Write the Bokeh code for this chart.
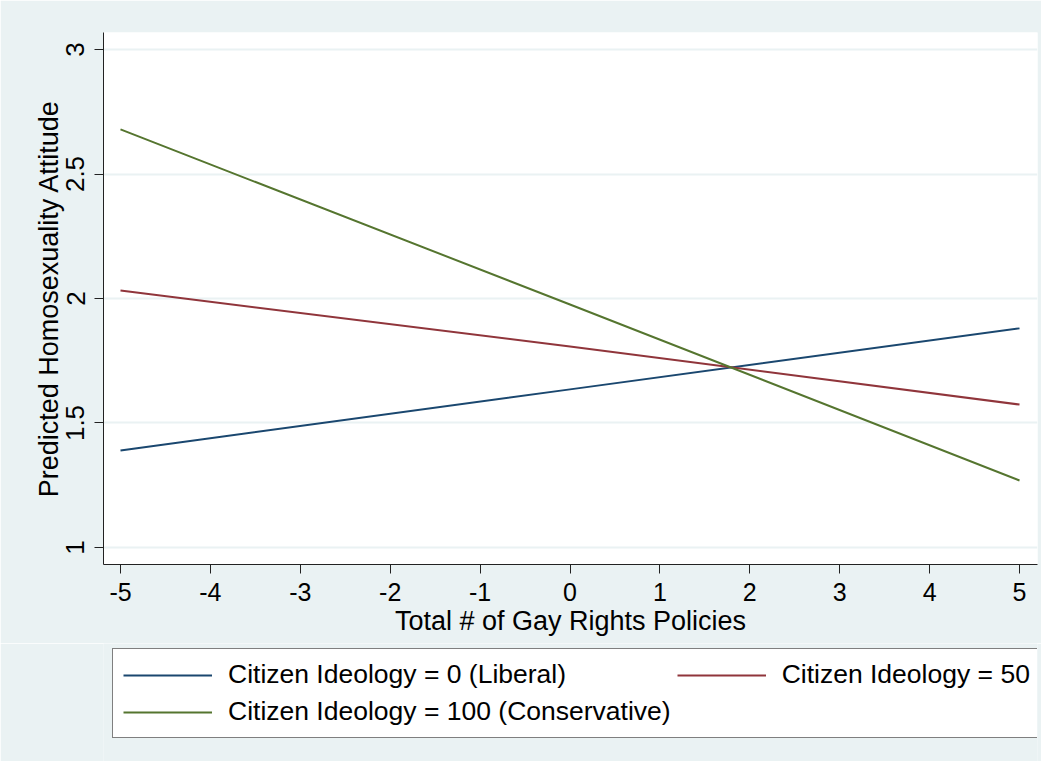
from bokeh.plotting import figure
from bokeh.models import Legend, LegendItem, Range1d, FixedTicker
from bokeh.layouts import column
from bokeh.embed import file_html
from bokeh.resources import INLINE

# ---- data ----
policies = [-5, 0, 5]
liberal = [1.39, 1.635, 1.88]
moderate = [2.032, 1.807, 1.574]
conservative = [2.679, 1.976, 1.269]

series_labels = [
    "Citizen Ideology = 0 (Liberal)",
    "Citizen Ideology = 50",
    "Citizen Ideology = 100 (Conservative)",
]
series_colors = ["#1A476F", "#90353B", "#55752F"]

x_ticks = [-5, -4, -3, -2, -1, 0, 1, 2, 3, 4, 5]
x_tick_labels = ["-5", "-4", "-3", "-2", "-1", "0", "1", "2", "3", "4", "5"]
y_ticks = [1, 1.5, 2, 2.5, 3]
y_tick_labels = ["1", "1.5", "2", "2.5", "3"]

x_title = "Total # of Gay Rights Policies"
y_title = "Predicted Homosexuality Attitude"

BG = "#EAF2F3"
FONT = "Liberation Sans"
W = 1041
BL, BR = 103, 4

p = figure(
    width=W, height=643,
    output_backend="svg", toolbar_location=None,
    x_range=Range1d(-5.189, 5.2), y_range=Range1d(0.9317, 3.0683),
    min_border_left=BL, min_border_right=BR, min_border_top=32, min_border_bottom=79,
)
p.background_fill_color = "white"
p.border_fill_color = BG
p.outline_line_color = None

# grid
p.xgrid.grid_line_color = None
p.ygrid.grid_line_color = BG
p.ygrid.grid_line_width = 2
p.ygrid.ticker = FixedTicker(ticks=y_ticks)

# axes
p.xaxis.ticker = FixedTicker(ticks=x_ticks)
p.xaxis.major_label_overrides = {t: s for t, s in zip(x_ticks, x_tick_labels)}
p.yaxis.ticker = FixedTicker(ticks=y_ticks)
p.yaxis.major_label_overrides = {t: s for t, s in zip(y_ticks, y_tick_labels)}
p.yaxis.major_label_orientation = "vertical"
for ax in (p.xaxis[0], p.yaxis[0]):
    ax.axis_line_color = "#222222"
    ax.axis_line_width = 1
    ax.major_tick_line_color = "#222222"
    ax.major_tick_line_width = 1
    ax.major_tick_in = 0
    ax.major_tick_out = 9
    ax.minor_tick_line_color = None
    ax.major_label_text_font = FONT
    ax.major_label_text_font_size = "25px"
    ax.major_label_text_color = "black"
    ax.axis_label_text_font = FONT
    ax.axis_label_text_font_size = "27px"
    ax.axis_label_text_font_style = "normal"
    ax.axis_label_text_color = "black"
p.yaxis.major_label_text_font_size = "26px"
p.xaxis.axis_label = x_title
p.yaxis.axis_label = y_title
p.xaxis.major_label_standoff = 9
p.xaxis.axis_label_standoff = 2
p.yaxis.major_label_standoff = 10
p.yaxis.axis_label_standoff = 0

renderers = []
for ys, c in zip([liberal, moderate, conservative], series_colors):
    r = p.line(policies, ys, line_color=c, line_width=2)
    renderers.append(r)

# ---- legend panel below the plot ----
lf = figure(
    width=W, height=118,
    output_backend="svg", toolbar_location=None,
    x_range=Range1d(0, 1), y_range=Range1d(0, 1),
    min_border_left=BL, min_border_right=BR, min_border_top=0, min_border_bottom=0,
)
lf.axis.visible = False
lf.grid.visible = False
lf.background_fill_color = BG
lf.border_fill_color = BG
lf.outline_line_color = None

# off-range stand-ins so the legend can show each series' line style
legend_renderers = []
for c in series_colors:
    legend_renderers.append(lf.line([-3, -2], [-3, -2], line_color=c, line_width=2))

legend = Legend(
    items=[LegendItem(label=l, renderers=[r]) for l, r in zip(series_labels, legend_renderers)],
    orientation="horizontal", ncols=2,
    location=(9, 23),
    border_line_color="black", border_line_width=1,
    background_fill_color="white", background_fill_alpha=1,
    label_text_font=FONT, label_text_font_size="26.5px", label_text_color="black",
    glyph_width=89, glyph_height=20, label_standoff=16,
    padding=10, spacing=6, margin=0,
)
lf.add_layout(legend, "center")

layout = column(p, lf, spacing=0)
open("out.html", "w").write(file_html(layout, INLINE))
